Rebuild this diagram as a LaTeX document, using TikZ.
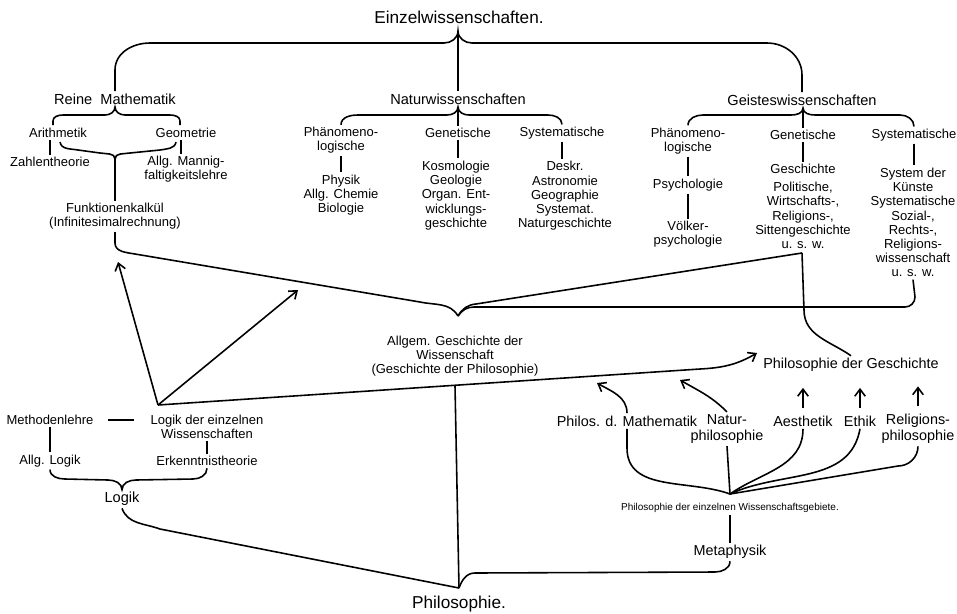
\documentclass[tikz,border=0pt]{standalone}
\usepackage{fontspec}
\setmainfont{Liberation Sans}
\usetikzlibrary{arrows.meta}
\begin{document}
\begin{tikzpicture}[x=0.02cm,y=-0.02cm,line width=0.9pt,>={Straight Barb[length=4pt,width=6pt]},
    txt/.style={inner sep=1pt,align=center,text=black,font=\fontsize{7.4}{8.1}\selectfont},
    head/.style={txt,font=\fontsize{8.3}{10}\selectfont},
    big/.style={txt,font=\fontsize{9.8}{12}\selectfont},
    phil/.style={txt,font=\fontsize{8.2}{9.2}\selectfont}]
  \useasboundingbox (0,0) rectangle (957,613);

  \node[big] (ew) at (459,17) {Einzelwissenschaften.};
  \node[head] (rm) at (115,99) {Reine\ \ Mathematik};
  \node[head] (nw) at (458,99) {Naturwissenschaften};
  \node[head] (gw) at (802,100) {Geisteswissenschaften};

  \node[txt] (ari) at (58,133) {Arithmetik};
  \node[txt] (geo) at (186,133) {Geometrie};
  \node[txt] (zt) at (50,162) {Zahlentheorie};
  \node[txt] (amf) at (186,169.5) {Allg. Mannig-\\faltigkeitslehre};
  \node[txt] (fk) at (115,216.5) {Funktionenkalkül\\(Infinitesimalrechnung)};

  \node[txt] (pn1) at (341,140.5) {Phänomeno-\\logische};
  \node[txt] (phy) at (341,195) {Physik\\Allg. Chemie\\Biologie};
  \node[txt] (gn1) at (458,133) {Genetische};
  \node[txt] (kos) at (456,195.5) {Kosmologie\\Geologie\\Organ. Ent-\\wicklungs-\\geschichte};
  \node[txt] (sn1) at (562,133) {Systematische};
  \node[txt] (des) at (565,196) {Deskr.\\Astronomie\\Geographie\\Systemat.\\Naturgeschichte};

  \node[txt] (pn2) at (688,141) {Phänomeno-\\logische};
  \node[txt] (psy) at (688,185) {Psychologie};
  \node[txt] (vp) at (688,234.5) {Völker-\\psychologie};
  \node[txt] (gn2) at (803,135) {Genetische};
  \node[txt] (gsc) at (803,206.5) {Geschichte\\[2pt]Politische,\\Wirtschafts-,\\Religions-,\\Sittengeschichte\\u. s. w.};
  \node[txt] (sn2) at (914,135) {Systematische};
  \node[txt] (sys) at (913,222.5) {System der\\Künste\\Systematische\\Sozial-,\\Rechts-,\\Religions-\\wissenschaft\\u. s. w.};

  \node[txt] (agw) at (455,356) {Allgem. Geschichte der\\Wissenschaft\\(Geschichte der Philosophie)};
  \node[phil] (pdg) at (851,365) {Philosophie der Geschichte};
  \node[phil] (pdm) at (627,421) {Philos. d. Mathematik};
  \node[phil] (nph) at (727,429) {Natur-\\philosophie};
  \node[phil] (aes) at (803,421) {Aesthetik};
  \node[phil] (eth) at (860,421) {Ethik};
  \node[phil] (rph) at (918,429) {Religions-\\philosophie};
  \node[txt,font=\fontsize{5.7}{7}\selectfont] (pew) at (730,508) {Philosophie der einzelnen Wissenschaftsgebiete.};
  \node[phil] (met) at (730,552) {Metaphysik};

  \node[txt] (mel) at (50,420) {Methodenlehre};
  \node[txt] (lew) at (207,426.5) {Logik der einzelnen\\Wissenschaften};
  \node[txt] (alo) at (50,461) {Allg. Logik};
  \node[txt] (ekt) at (207,461) {Erkenntnistheorie};
  \node[head] (log) at (122,499) {Logik};
  \node[big] (phi) at (459,604) {Philosophie.};

  \coordinate (etip) at (458,31);
  \coordinate (atip) at (458,316);
  \coordinate (gcor) at (802,253);
  \coordinate (lap) at (158,405);
  \coordinate (fka) at (118,262);
  \coordinate (mida) at (298,290);
  \coordinate (pga) at (757,353);
  \coordinate (pcv) at (730,494);
  \coordinate (ptip) at (459,588);

  \draw (rm.north) -- (115,70) to[out=90,in=180] (150,43) -- (444,43) to[out=0,in=-90] (etip)
    to[out=-90,in=180] (472,43) -- (767,43) to[out=0,in=90] (802,75) -- (gw.north);
  \draw (etip) -- (nw.north);

  \draw (53,125) -- (53,121) to[out=90,in=180] (63,115) -- (105,115) to[out=0,in=-90] (115,107)
    to[out=-90,in=180] (125,115) -- (170,115) to[out=0,in=90] (180,121) -- (180,125);
  \draw (ari.south -| zt.north) -- (zt.north);
  \draw ([xshift=-3pt]geo.south) -- ([xshift=-3pt]geo.south |- amf.north);
  \draw (60,142) to[out=-80,in=170] (78,150) -- (100,153) to[out=-10,in=90] (115,159)
    to[out=90,in=190] (130,153) -- (160,150) to[out=10,in=-100] (176,142);
  \draw (115,159) -- (fk.north);

  \draw (pn1.north) to[out=90,in=180] (358,115) -- (447,115) to[out=0,in=-90] (458,107)
    to[out=-90,in=180] (469,115) -- (548,115) to[out=0,in=90] (sn1.north);
  \draw (458,107) -- (gn1.north);
  \draw (pn1.south) -- (phy.north);
  \draw (gn1.south) -- (gn1.south |- kos.north);
  \draw (sn1.south) -- (sn1.south |- des.north);

  \draw (pn2.north) to[out=90,in=180] (703,115) -- (791,115) to[out=0,in=-90] (803,108)
    to[out=-90,in=180] (815,115) -- (900,115) to[out=0,in=90] (sn2.north);
  \draw (803,108) -- (gn2.north);
  \draw (pn2.south) -- (psy.north);
  \draw (psy.south) -- (vp.north);
  \draw (gn2.south) -- (gsc.north);
  \draw (sn2.south) -- (sn2.south |- sys.north);

  \draw (fk.south) -- (115,243) to[out=-90,in=170] (135,254) -- (420,302) to[out=-12,in=120] (atip);
  \draw (atip) to[out=60,in=185] (476,304) -- (gcor);
  \draw (atip) to[out=55,in=180] (474,307) -- (905,307) to[out=0,in=-90] (915,297) -- (sys.south);
  \draw (pdg.north) to[out=145,in=-90] (804,310) -- (gcor);

  \draw[->] (lap) -- (fka);
  \draw[->] (lap) -- (mida);
  \draw[->] (lap) -- (700,369) to[out=3,in=-150] (pga);
  \draw ([yshift=-4pt]agw.south) -- (ptip);

  \draw[->] (pdm.north) to[out=90,in=-30] (597,383);
  \draw[->] (nph.north) to[out=135,in=-30] (680,380);
  \draw[->] ([yshift=3pt]aes.north) -- ++(0,-20);
  \draw[->] ([yshift=3pt]eth.north) -- ++(0,-20);
  \draw[->] ([yshift=3pt]rph.north) -- ++(0,-20);

  \draw (pdm.south) -- (627,448) to[out=-90,in=160] (pcv);
  \draw (nph.south) -- (pcv);
  \draw (aes.south) to[out=-90,in=35] (pcv);
  \draw (eth.south) to[out=-100,in=25] (pcv);
  \draw (rph.south) to[out=-90,in=0] (898,466) -- (pcv);
  \draw (pew.south) -- (met.north);

  \draw ([xshift=7pt]mel.east) -- ++(26,0);
  \draw (mel.south) -- (alo.north);
  \draw (lew.south) -- (ekt.north);
  \draw (alo.south) to[out=-90,in=180] (65,479) -- (108,480) to[out=0,in=90] (log.north)
    to[out=90,in=180] (136,480) -- (193,479) to[out=0,in=-90] (ekt.south);

  \draw (log.south) to[out=-70,in=160] (160,529) -- (ptip);
  \draw (ptip) to[out=70,in=180] (475,573) -- (715,572) to[out=0,in=-90] (met.south);
\end{tikzpicture}
\end{document}
